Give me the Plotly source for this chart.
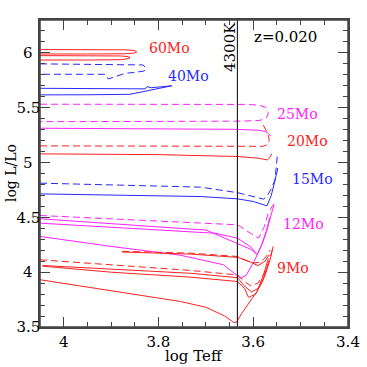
import math
import plotly.graph_objects as go

# evolutionary tracks, z=0.020 (log Teff, log L/Lo)
m60_a_t = [4.05, 3.95, 3.87, 3.851, 3.846, 3.852, 3.87, 3.95, 4.05]
m60_a_l = [6.03, 6.03, 6.028, 6.022, 6.01, 5.998, 5.992, 5.99, 5.99]
m60_b_t = [4.05, 3.95, 3.88, 3.864, 3.86, 3.868, 3.878, 3.95, 4.05]
m60_b_l = [5.975, 5.975, 5.972, 5.966, 5.955, 5.945, 5.938, 5.935, 5.935]

m40_dash_t = [4.05, 3.95, 3.85, 3.833, 3.826, 3.83, 3.85, 3.87, 3.906, 3.912, 3.95, 4.05]
m40_dash_l = [5.90, 5.898, 5.895, 5.89, 5.865, 5.835, 5.822, 5.814, 5.762, 5.805, 5.805, 5.805]
m40_solid_t = [4.05, 3.95, 3.85, 3.828, 3.824, 3.815, 3.772, 3.81, 3.839, 3.86, 3.95, 4.05]
m40_solid_l = [5.677, 5.677, 5.675, 5.672, 5.692, 5.682, 5.70, 5.668, 5.638, 5.622, 5.618, 5.617]

m25_dash_t = [4.05, 3.8, 3.62, 3.59, 3.574, 3.568, 3.572, 3.585, 3.62, 3.8, 4.05]
m25_dash_l = [5.532, 5.532, 5.53, 5.525, 5.505, 5.45, 5.41, 5.385, 5.378, 5.375, 5.373]
m25_solid_t = [4.05, 3.8, 3.64, 3.59, 3.575, 3.568, 3.563]
m25_solid_l = [5.313, 5.31, 5.303, 5.295, 5.285, 5.265, 5.243]

m20_dash_t = [4.05, 3.8, 3.62, 3.58, 3.569, 3.566, 3.57, 3.578, 3.583]
m20_dash_l = [5.152, 5.15, 5.147, 5.148, 5.165, 5.207, 5.27, 5.33, 5.375]
m20_solid_t = [4.05, 3.8, 3.633, 3.59, 3.57, 3.565, 3.561]
m20_solid_l = [5.079, 5.072, 5.055, 5.04, 5.024, 5.045, 5.079]

m15_dash_t = [4.05, 3.8, 3.712, 3.633, 3.578, 3.57, 3.562, 3.554, 3.551, 3.549]
m15_dash_l = [4.812, 4.785, 4.776, 4.725, 4.666, 4.70, 4.76, 4.842, 4.95, 5.07]
m15_solid_t = [4.05, 3.8, 3.712, 3.633, 3.60, 3.571, 3.562, 3.555, 3.548]
m15_solid_l = [4.714, 4.70, 4.69, 4.669, 4.645, 4.605, 4.70, 4.82, 4.95]

m12_dash_t = [4.05, 3.9, 3.733, 3.633, 3.606, 3.589, 3.578, 3.568, 3.56, 3.555]
m12_dash_l = [4.517, 4.485, 4.453, 4.432, 4.356, 4.31, 4.40, 4.54, 4.60, 4.63]
m12_a_t = [4.05, 3.9, 3.733, 3.70, 3.633, 3.603, 3.592, 3.582, 3.572, 3.565]
m12_a_l = [4.487, 4.44, 4.393, 4.385, 4.265, 4.204, 4.16, 4.25, 4.38, 4.50]
m12_b_t = [4.05, 3.9, 3.733, 3.68, 3.633, 3.605, 3.595]
m12_b_l = [4.447, 4.41, 4.37, 4.355, 4.31, 4.23, 4.18]
m12_c_t = [4.05, 3.9, 3.754, 3.663, 3.627, 3.615, 3.598, 3.582, 3.572, 3.564, 3.556]
m12_c_l = [4.326, 4.235, 4.155, 4.068, 3.946, 3.97, 4.10, 4.25, 4.37, 4.50, 4.62]

m9_loop_dash_t = [3.877, 3.8, 3.733, 3.633, 3.603, 3.585, 3.573, 3.564]
m9_loop_dash_l = [4.19, 4.185, 4.174, 4.143, 4.083, 4.09, 4.14, 4.204]
m9_loop_solid_t = [3.877, 3.8, 3.733, 3.633, 3.61, 3.59, 3.575, 3.566]
m9_loop_solid_l = [4.184, 4.175, 4.165, 4.135, 4.10, 4.06, 4.10, 4.16]
m9_dash_t = [4.05, 3.9, 3.733, 3.633, 3.62, 3.605, 3.59, 3.575, 3.565, 3.56]
m9_dash_l = [4.113, 4.065, 4.016, 3.975, 3.92, 3.875, 3.90, 4.0, 4.12, 4.20]
m9_a_t = [4.045, 3.9, 3.733, 3.633, 3.62, 3.604, 3.59, 3.576, 3.564, 3.558]
m9_a_l = [4.061, 4.03, 3.99, 3.95, 3.88, 3.82, 3.85, 3.96, 4.12, 4.235]
m9_b_t = [4.045, 3.9, 3.733, 3.633, 3.618, 3.61, 3.595, 3.58, 3.568]
m9_b_l = [4.055, 4.0, 3.955, 3.915, 3.85, 3.77, 3.80, 3.92, 4.08]
m9_c_t = [4.05, 3.9, 3.754, 3.70, 3.66, 3.641, 3.635, 3.625, 3.608, 3.592, 3.578, 3.568]
m9_c_l = [3.931, 3.83, 3.733, 3.68, 3.60, 3.54, 3.545, 3.62, 3.72, 3.824, 3.98, 4.128]

mass_labels = ['60Mo', '40Mo', '25Mo', '20Mo', '15Mo', '12Mo', '9Mo']

RED = '#ff2020'
BLUE = '#2828ff'
MAG = '#ff20ff'
FONT = 'DejaVu Serif'
FRAME = '#444'

tracks = [
    (m60_a_t, m60_a_l, RED, 'solid'), (m60_b_t, m60_b_l, RED, 'solid'),
    (m40_dash_t, m40_dash_l, BLUE, 'dash'), (m40_solid_t, m40_solid_l, BLUE, 'solid'),
    (m25_dash_t, m25_dash_l, MAG, 'dash'), (m25_solid_t, m25_solid_l, MAG, 'solid'),
    (m20_dash_t, m20_dash_l, RED, 'dash'), (m20_solid_t, m20_solid_l, RED, 'solid'),
    (m15_dash_t, m15_dash_l, BLUE, 'dash'), (m15_solid_t, m15_solid_l, BLUE, 'solid'),
    (m12_dash_t, m12_dash_l, MAG, 'dash'), (m12_a_t, m12_a_l, MAG, 'solid'),
    (m12_b_t, m12_b_l, MAG, 'solid'), (m12_c_t, m12_c_l, MAG, 'solid'),
    (m9_loop_dash_t, m9_loop_dash_l, RED, 'dash'), (m9_loop_solid_t, m9_loop_solid_l, RED, 'solid'),
    (m9_dash_t, m9_dash_l, RED, 'dash'), (m9_a_t, m9_a_l, RED, 'solid'),
    (m9_b_t, m9_b_l, RED, 'solid'), (m9_c_t, m9_c_l, RED, 'solid'),
]

fig = go.Figure()
for t, l, col, dash in tracks:
    fig.add_trace(go.Scatter(x=t, y=l, mode='lines', showlegend=False,
                             line=dict(color=col, width=1, dash='7px,4px' if dash == 'dash' else 'solid')))

# 4300K line
t4300 = math.log10(4300)
fig.add_shape(type='line', x0=t4300, x1=t4300, y0=0, y1=1, yref='paper',
              line=dict(color='black', width=1))
# frame
fig.add_shape(type='rect', xref='paper', yref='paper', x0=0, x1=1, y0=0, y1=1,
              line=dict(color=FRAME, width=1.5), layer='above')

label_pos = [(3.776, 6.045), (3.736, 5.79), (3.506, 5.443), (3.485, 5.197),
             (3.474, 4.851), (3.494, 4.441), (3.516, 4.036)]
label_col = [RED, BLUE, MAG, RED, BLUE, MAG, RED]
for txt, (x, y), c in zip(mass_labels, label_pos, label_col):
    fig.add_annotation(x=x, y=y, text=txt, showarrow=False, font=dict(family=FONT, size=14, color=c))

fig.add_annotation(x=3.531, y=6.145, text='z=0.020', showarrow=False,
                   font=dict(family=FONT, size=15, color='black'))
fig.add_annotation(x=3.649, y=6.054, text='4300K', textangle=-90, showarrow=False,
                   font=dict(family=FONT, size=15, color='black'))

# axis titles
fig.add_annotation(x=0.5, y=-0.096, xref='paper', yref='paper', xanchor='center', yanchor='middle',
                   text='log Teff', showarrow=False, font=dict(family=FONT, size=15, color='black'))
fig.add_annotation(x=-0.0955, y=0.5, xref='paper', yref='paper', xanchor='center', yanchor='middle',
                   text='log L/Lo', textangle=-90, showarrow=False,
                   font=dict(family=FONT, size=14, color='black'))

axis_style = dict(showline=True, linecolor=FRAME, linewidth=1.5, mirror='ticks', ticks='inside',
                  tickcolor=FRAME, tickwidth=1.2, ticklen=10, showgrid=False, zeroline=False,
                  automargin=False, tickfont=dict(family=FONT, size=15, color='black'))

fig.update_xaxes(range=[4.05, 3.4], tickvals=[4.0, 3.8, 3.6, 3.4], ticktext=['4', '3.8', '3.6', '3.4'],
                 minor=dict(dtick=0.05, ticks='inside', ticklen=5, tickcolor=FRAME, tickwidth=1.2),
                 **axis_style)
fig.update_yaxes(range=[3.5, 6.3], tickvals=[3.5, 4, 4.5, 5, 5.5, 6],
                 ticktext=['3.5', '4\u2008\u2009', '4.5', '5\u2008\u2009', '5.5', '6\u2008\u2009'],
                 ticklabelstandoff=-5,
                 minor=dict(dtick=0.1, ticks='inside', ticklen=5, tickcolor=FRAME, tickwidth=1.2),
                 **axis_style)

fig.update_layout(width=367, height=367, margin=dict(l=40, r=19, t=20, b=40, autoexpand=False),
                  plot_bgcolor='white', paper_bgcolor='white')

# drop the default page margin so the figure fills the window; no modebar
fig.write_html('out.html', config={'displayModeBar': False},
               post_script="document.body.style.margin='0';")
